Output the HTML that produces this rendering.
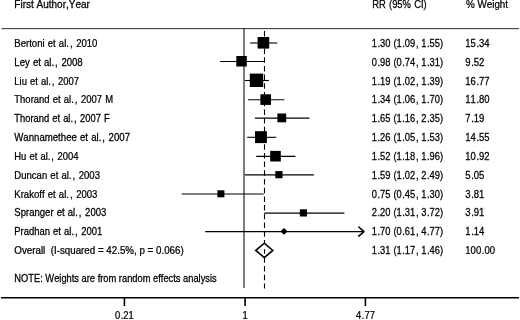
<!DOCTYPE html>
<html><head><meta charset="utf-8"><title>Forest plot</title><style>html,body{margin:0;padding:0;background:#fff}svg text{white-space:pre}</style></head><body>
<svg width="520" height="320" viewBox="0 0 520 320" style="display:block">
<rect width="520" height="320" fill="#fff"/>
<g style="font-family:'Liberation Sans',sans-serif;font-kerning:none;white-space:pre;letter-spacing:0px;font-size:10px" fill="#000" stroke="#000" stroke-width="0.25" id="txt">
<text transform="translate(14.30,8.20) scale(1.0001,1)">First Author,Year</text>
<text transform="translate(372.20,8.20) scale(0.9391,1)" dx="0 0 0 0.7 0 0 0 0 0.7">RR (95% CI)</text>
<text transform="translate(466.00,8.20) scale(0.9837,1)">% Weight</text>
<text transform="translate(14.30,47.00) scale(0.9568,1)" dx="0 0 0 0 0 0 0 0 0.5 0 0 0.5 0 0 1 0.5 0.5">Bertoni et al., 2010</text>
<text transform="translate(371.70,47.00) scale(0.9335,1)" dx="0 0.55 0 0 0 0.5 0 0.55 0 0 1 0 0 0.55">1.30 (1.09, 1.55)</text>
<text transform="translate(465.30,47.00) scale(0.9499,1)" dx="0 0 0.55">15.34</text>
<text transform="translate(14.30,65.82) scale(0.9581,1)" dx="0 0 0 0 0.5 0 0 0.5 0 0 1 0.5 0.5">Ley et al., 2008</text>
<text transform="translate(371.70,65.82) scale(0.9335,1)" dx="0 0.55 0 0 0 0.5 0 0.55 0 0 1 0 0 0.55">0.98 (0.74, 1.31)</text>
<text transform="translate(465.30,65.82) scale(0.9541,1)" dx="0 0.55">9.52</text>
<text transform="translate(14.30,84.64) scale(0.9416,1)" dx="0 0 0 0 0.5 0 0 0.5 0 0 1 0.5 0.5">Liu et al., 2007</text>
<text transform="translate(371.70,84.64) scale(0.9335,1)" dx="0 0.55 0 0 0 0.5 0 0.55 0 0 1 0 0 0.55">1.19 (1.02, 1.39)</text>
<text transform="translate(465.30,84.64) scale(0.9499,1)" dx="0 0 0.55">16.77</text>
<text transform="translate(14.30,103.46) scale(0.9479,1)" dx="0 0 0 0 0 0 0 0 0.5 0 0 0.5 0 0 1 0.5 0.5 0 0 0 0 0.5">Thorand et al., 2007 M</text>
<text transform="translate(371.70,103.46) scale(0.9335,1)" dx="0 0.55 0 0 0 0.5 0 0.55 0 0 1 0 0 0.55">1.34 (1.06, 1.70)</text>
<text transform="translate(465.30,103.46) scale(0.9499,1)" dx="0 0 0.55">11.80</text>
<text transform="translate(14.30,122.28) scale(0.9366,1)" dx="0 0 0 0 0 0 0 0 0.5 0 0 0.5 0 0 1 0.5 0.5 0 0 0 0 0.5">Thorand et al., 2007 F</text>
<text transform="translate(371.70,122.28) scale(0.9335,1)" dx="0 0.55 0 0 0 0.5 0 0.55 0 0 1 0 0 0.55">1.65 (1.16, 2.35)</text>
<text transform="translate(465.30,122.28) scale(0.9541,1)" dx="0 0.55">7.19</text>
<text transform="translate(14.30,141.10) scale(0.9617,1)" dx="0 0 0 0 0 0 0 0 0 0 0 0 0.5 0 0 0.5 0 0 1 0.5 0.5">Wannamethee et al., 2007</text>
<text transform="translate(371.70,141.10) scale(0.9335,1)" dx="0 0.55 0 0 0 0.5 0 0.55 0 0 1 0 0 0.55">1.26 (1.05, 1.53)</text>
<text transform="translate(465.30,141.10) scale(0.9499,1)" dx="0 0 0.55">14.55</text>
<text transform="translate(14.30,159.92) scale(0.9435,1)" dx="0 0 0 0.5 0 0 0.5 0 0 1 0.5 0.5">Hu et al., 2004</text>
<text transform="translate(371.70,159.92) scale(0.9335,1)" dx="0 0.55 0 0 0 0.5 0 0.55 0 0 1 0 0 0.55">1.52 (1.18, 1.96)</text>
<text transform="translate(465.30,159.92) scale(0.9499,1)" dx="0 0 0.55">10.92</text>
<text transform="translate(14.30,178.74) scale(0.9550,1)" dx="0 0 0 0 0 0 0 0.5 0 0 0.5 0 0 1 0.5 0.5">Duncan et al., 2003</text>
<text transform="translate(371.70,178.74) scale(0.9335,1)" dx="0 0.55 0 0 0 0.5 0 0.55 0 0 1 0 0 0.55">1.59 (1.02, 2.49)</text>
<text transform="translate(465.30,178.74) scale(0.9541,1)" dx="0 0.55">5.05</text>
<text transform="translate(14.30,197.56) scale(0.9568,1)" dx="0 0 0 0 0 0 0 0 0.5 0 0 0.5 0 0 1 0.5 0.5">Krakoff et al., 2003</text>
<text transform="translate(371.70,197.56) scale(0.9335,1)" dx="0 0.55 0 0 0 0.5 0 0.55 0 0 1 0 0 0.55">0.75 (0.45, 1.30)</text>
<text transform="translate(465.30,197.56) scale(0.9541,1)" dx="0 0.55">3.81</text>
<text transform="translate(14.30,216.38) scale(0.9538,1)" dx="0 0 0 0 0 0 0 0 0 0.5 0 0 0.5 0 0 1 0.5 0.5">Spranger et al., 2003</text>
<text transform="translate(371.70,216.38) scale(0.9335,1)" dx="0 0.55 0 0 0 0.5 0 0.55 0 0 1 0 0 0.55">2.20 (1.31, 3.72)</text>
<text transform="translate(465.30,216.38) scale(0.9541,1)" dx="0 0.55">3.91</text>
<text transform="translate(14.30,235.20) scale(0.9449,1)" dx="0 0 0 0 0 0 0 0 0.5 0 0 0.5 0 0 1 0.5 0.5">Pradhan et al., 2001</text>
<text transform="translate(371.70,235.20) scale(0.9335,1)" dx="0 0.55 0 0 0 0.5 0 0.55 0 0 1 0 0 0.55">1.70 (0.61, 4.77)</text>
<text transform="translate(465.30,235.20) scale(0.9541,1)" dx="0 0.55">1.14</text>
<text transform="translate(14.30,254.32) scale(0.9785,1)">Overall  (I-squared = 42.5%, p = 0.066)</text>
<text transform="translate(371.70,254.32) scale(0.9335,1)" dx="0 0.55 0 0 0 0.5 0 0.55 0 0 1 0 0 0.55">1.31 (1.17, 1.46)</text>
<text transform="translate(465.30,254.32) scale(0.9536,1)" dx="0 0 0 0.55">100.00</text>
<text transform="translate(14.30,281.60) scale(0.9328,1)">NOTE: Weights are from random effects analysis</text>
<text transform="translate(114.99,319.00) scale(0.9400,1)" dx="0 0.55">0.21</text>
<text transform="translate(242.59,319.00) scale(0.9400,1)">1</text>
<text transform="translate(356.09,319.00) scale(0.9400,1)" dx="0 0.55">4.77</text>
</g>
<g stroke="#000" stroke-width="1.1" fill="none">
<line x1="1.5" y1="28.65" x2="519" y2="28.65" stroke="#222" stroke-width="0.95"/>
<line x1="1" y1="297.7" x2="519" y2="297.7" stroke-width="1.6"/>
<line x1="244" y1="28.4" x2="244" y2="288" stroke="#111"/>
<line x1="124.4" y1="297.7" x2="124.4" y2="306.0" stroke-width="1.6"/>
<line x1="245.1" y1="297.7" x2="245.1" y2="306.0" stroke-width="1.6"/>
<line x1="365.4" y1="297.7" x2="365.4" y2="306.0" stroke-width="1.6"/>
<line x1="264.5" y1="31.1" x2="264.5" y2="288.5" stroke-dasharray="5.5,3.2"/>
<line x1="250.1" y1="43.0" x2="277.3" y2="43.0"/>
<line x1="220.1" y1="61.5" x2="264.3" y2="61.5"/>
<line x1="244.9" y1="80.5" x2="268.9" y2="80.5"/>
<line x1="247.9" y1="99.8" x2="284.4" y2="99.8"/>
<line x1="254.9" y1="118.1" x2="309.4" y2="118.1"/>
<line x1="247.2" y1="137.3" x2="276.3" y2="137.3"/>
<line x1="256.2" y1="156.4" x2="295.4" y2="156.4"/>
<line x1="244.9" y1="174.9" x2="313.9" y2="174.9"/>
<line x1="181.7" y1="194.0" x2="263.7" y2="194.0"/>
<line x1="264.3" y1="213.1" x2="344.4" y2="213.1"/>
<line x1="205.2" y1="231.6" x2="363.5" y2="231.6"/>
<polyline points="358.8,227.0 363.9,231.6 358.8,236.2" stroke-width="1.6" stroke-linejoin="round" stroke-linecap="round"/>
</g>
<g fill="#000">
<rect x="257.6" y="37.0" width="11.6" height="11.6"/>
<rect x="236.3" y="56.0" width="10.5" height="10.5"/>
<rect x="249.8" y="73.6" width="13.4" height="13.4"/>
<rect x="260.4" y="94.3" width="10.6" height="10.6"/>
<rect x="277.4" y="113.5" width="8.8" height="8.8"/>
<rect x="255.0" y="131.2" width="11.9" height="11.9"/>
<rect x="270.2" y="150.9" width="10.6" height="10.6"/>
<rect x="275.3" y="171.1" width="7.2" height="7.2"/>
<rect x="217.4" y="190.3" width="7.0" height="7.0"/>
<rect x="299.8" y="209.3" width="7.2" height="7.2"/>
<polygon points="281.7,231.3 284,229 286.3,231.3 284,233.6" stroke="#000" stroke-width="1.7" stroke-linejoin="round"/>
</g>
<polygon points="255.8,250.4 264.3,243.2 272.8,250.4 264.3,257.6" fill="#fff" stroke="#000" stroke-width="1.6" stroke-linejoin="miter"/>
<line x1="264.5" y1="249.1" x2="264.5" y2="253.8" stroke="#000" stroke-width="1"/>
</svg>
</body></html>
